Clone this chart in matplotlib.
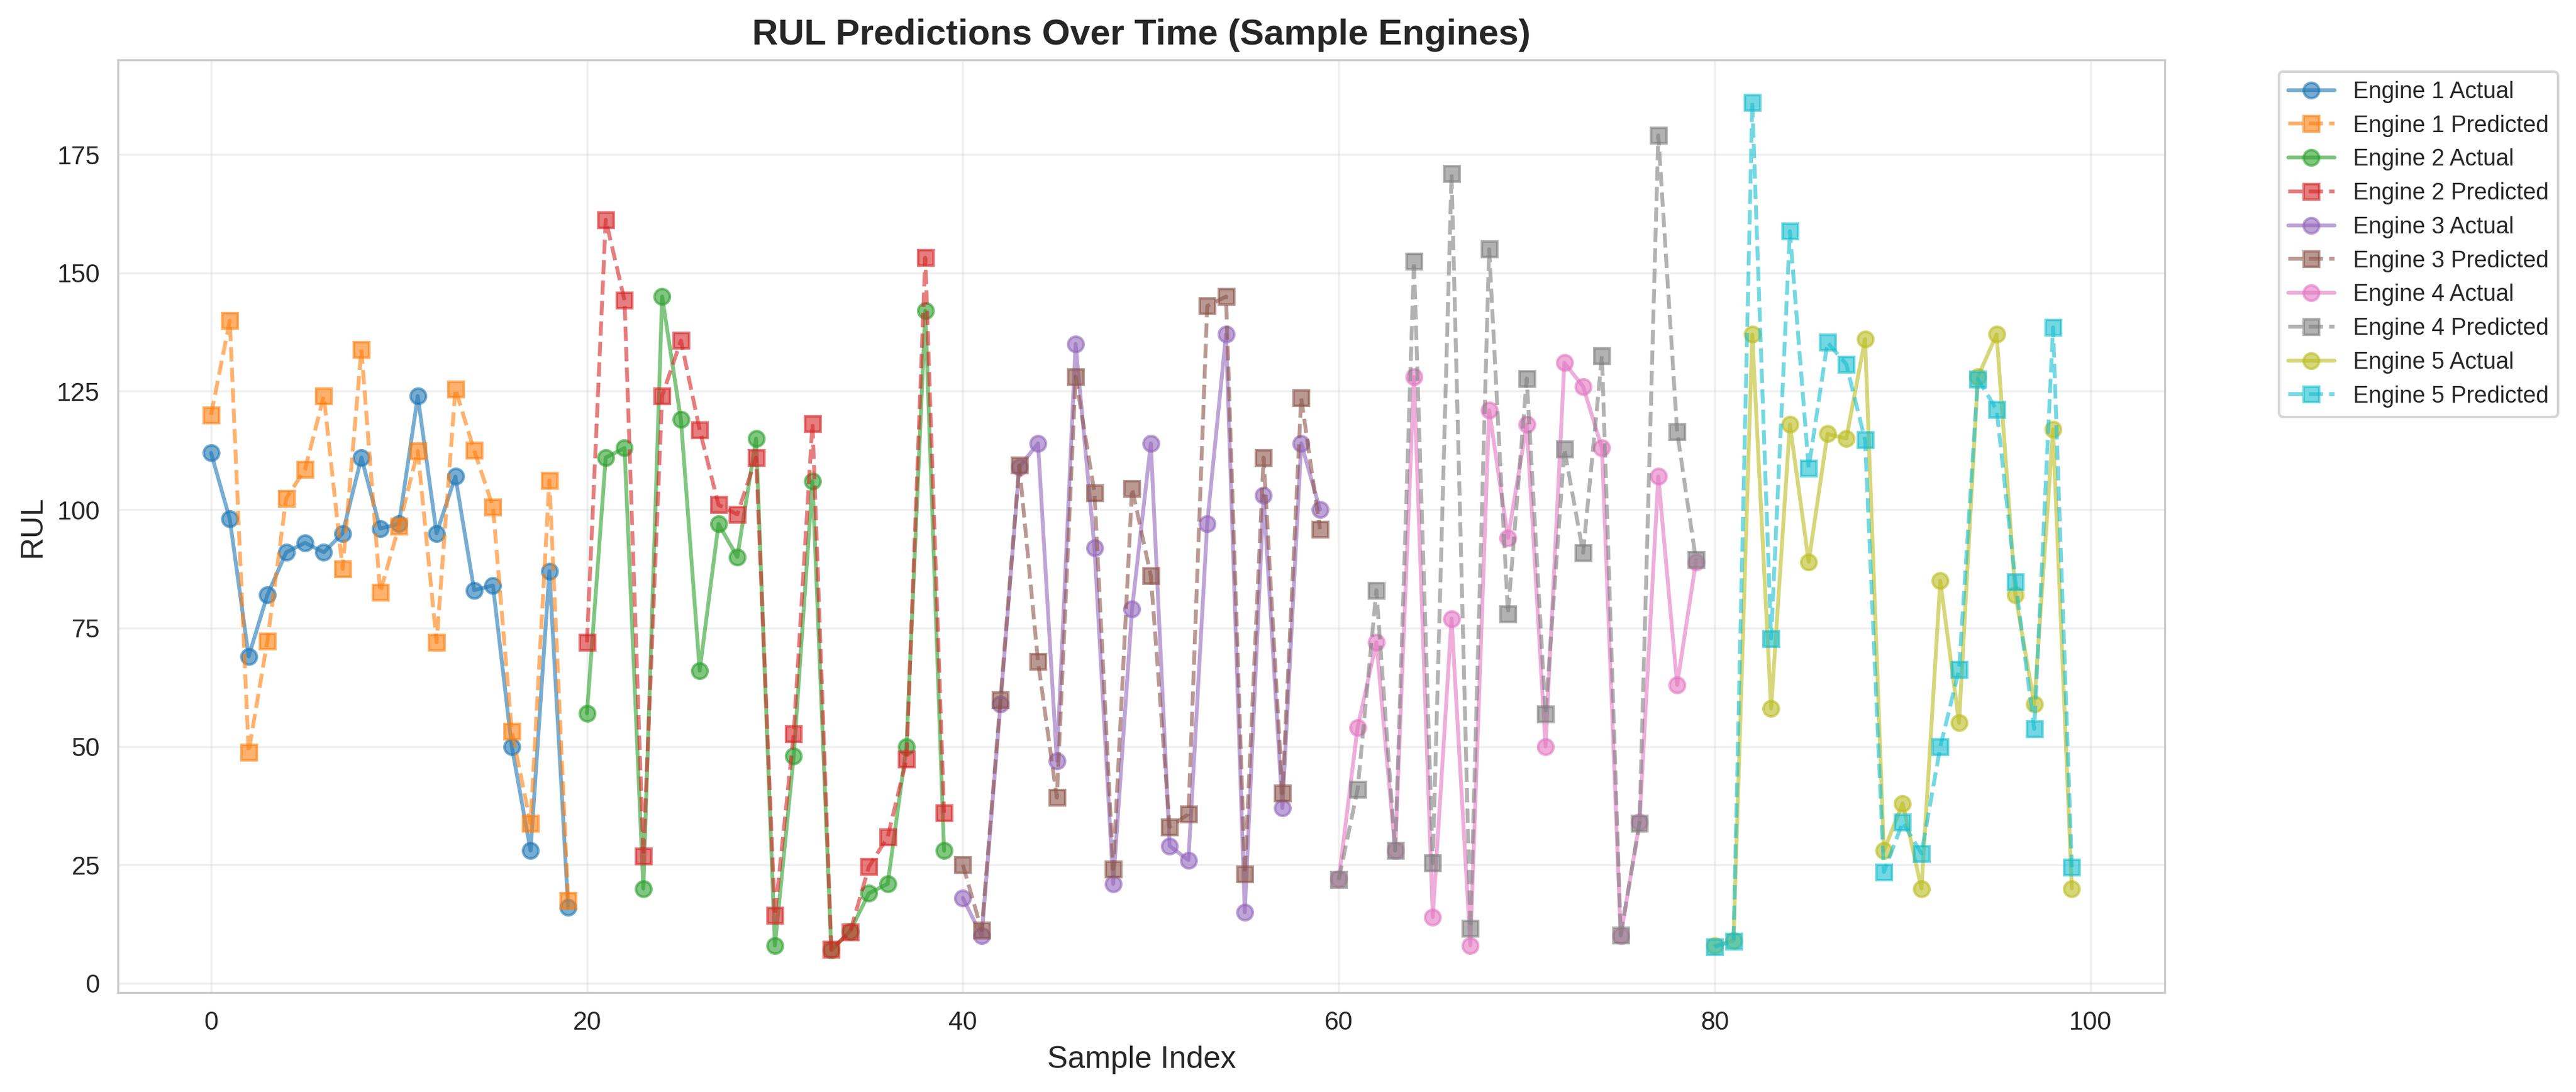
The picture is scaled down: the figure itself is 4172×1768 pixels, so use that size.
import matplotlib
matplotlib.use("Agg")
import matplotlib.pyplot as plt
import seaborn as sns
import numpy as np

sns.set_style("whitegrid")
plt.rcParams['font.family'] = ['Liberation Sans', 'DejaVu Sans']

# RUL values, 20 samples per engine
engines = [1, 2, 3, 4, 5]
actual = [
    [112, 98, 69, 82, 91, 93, 91, 95, 111, 96, 97, 124, 95, 107, 83, 84, 50, 28, 87, 16],
    [57, 111, 113, 20, 145, 119, 66, 97, 90, 115, 8, 48, 106, 7, 11, 19, 21, 50, 142, 28],
    [18, 10, 59, 109, 114, 47, 135, 92, 21, 79, 114, 29, 26, 97, 137, 15, 103, 37, 114, 100],
    [22, 54, 72, 28, 128, 14, 77, 8, 121, 94, 118, 50, 131, 126, 113, 10, 34, 107, 63, 89],
    [8, 9, 137, 58, 118, 89, 116, 115, 136, 28, 38, 20, 85, 55, 128, 137, 82, 59, 117, 20],
]
predicted = [
    [120.0, 139.9, 48.8, 72.3, 102.4, 108.5, 124.0, 87.5, 133.8, 82.6,
     96.5, 112.4, 72.0, 125.5, 112.5, 100.6, 53.2, 33.8, 106.2, 17.5],
    [72.0, 161.2, 144.2, 26.9, 124.0, 135.7, 116.8, 101.0, 99.0, 111.0,
     14.3, 52.7, 118.2, 7.2, 10.8, 24.6, 30.9, 47.3, 153.2, 36.0],
    [25.0, 11.2, 59.8, 109.4, 67.9, 39.2, 128.1, 103.6, 24.1, 104.5,
     86.1, 33.0, 35.7, 143.0, 145.0, 23.1, 111.0, 40.1, 123.6, 95.9],
    [21.9, 40.9, 83.0, 28.0, 152.4, 25.4, 170.9, 11.6, 155.0, 78.0,
     127.7, 56.8, 112.8, 90.9, 132.5, 10.2, 33.8, 179.0, 116.5, 89.4],
    [7.7, 8.9, 186.0, 72.8, 158.8, 108.8, 135.3, 130.7, 114.7, 23.5,
     34.0, 27.4, 49.9, 66.2, 127.6, 121.1, 84.8, 53.7, 138.5, 24.5],
]

fig = plt.figure(figsize=(4172 / 300, 1768 / 300), dpi=300)
ax = fig.add_axes([0.0458, 0.0911, 0.7946, 0.854])

colors = plt.get_cmap('tab10').colors
start = 0
for i, eng in enumerate(engines):
    idx = np.arange(start, start + len(actual[i]))
    ax.plot(idx, actual[i], 'o-', color=colors[2 * i], alpha=0.6,
            label=f'Engine {eng} Actual')
    ax.plot(idx, predicted[i], 's--', color=colors[2 * i + 1], alpha=0.6,
            label=f'Engine {eng} Predicted')
    start += len(actual[i])

ax.set_title('RUL Predictions Over Time (Sample Engines)', fontsize=14, fontweight='bold')
ax.set_xlabel('Sample Index', fontsize=12)
ax.set_ylabel('RUL', fontsize=12)
ax.grid(True, alpha=0.3)
ax.legend(bbox_to_anchor=(1.05, 1), loc='upper left', fontsize=9)

fig.savefig('out.png', dpi=300)
